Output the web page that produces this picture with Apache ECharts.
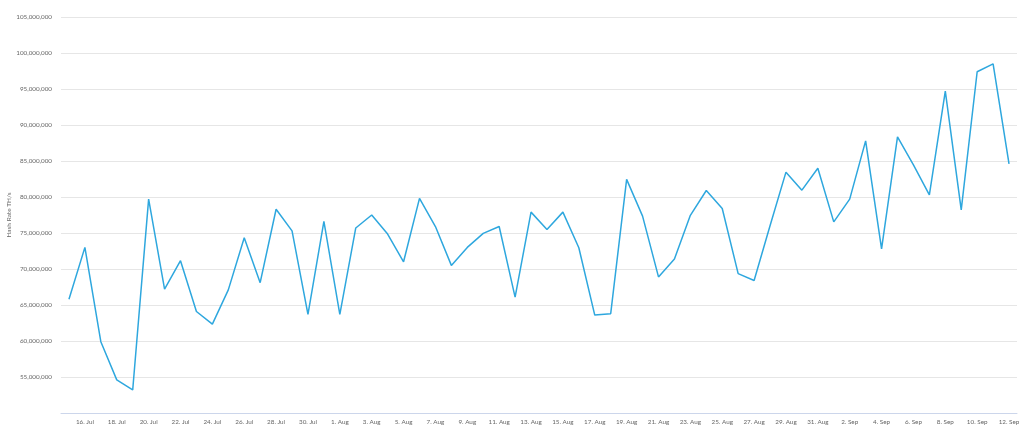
<!DOCTYPE html>
<html>
<head>
<meta charset="utf-8">
<script src="https://cdn.jsdelivr.net/npm/echarts@6/dist/echarts.min.js"></script>
<style>
  html, body { margin: 0; padding: 0; background: #fff; }
  #chart { width: 1024px; height: 430px; }
</style>
</head>
<body>
<div id="chart"></div>
<script>
const days = [
  '15. Jul', '16. Jul', '17. Jul', '18. Jul', '19. Jul', '20. Jul', '21. Jul', '22. Jul', '23. Jul', '24. Jul',
  '25. Jul', '26. Jul', '27. Jul', '28. Jul', '29. Jul', '30. Jul', '31. Jul',
  '1. Aug', '2. Aug', '3. Aug', '4. Aug', '5. Aug', '6. Aug', '7. Aug', '8. Aug', '9. Aug', '10. Aug',
  '11. Aug', '12. Aug', '13. Aug', '14. Aug', '15. Aug', '16. Aug', '17. Aug', '18. Aug', '19. Aug', '20. Aug',
  '21. Aug', '22. Aug', '23. Aug', '24. Aug', '25. Aug', '26. Aug', '27. Aug', '28. Aug', '29. Aug', '30. Aug',
  '31. Aug',
  '1. Sep', '2. Sep', '3. Sep', '4. Sep', '5. Sep', '6. Sep', '7. Sep', '8. Sep', '9. Sep', '10. Sep',
  '11. Sep', '12. Sep'
]

// hash rate in TH/s
const hashRate = [
  65800000, 73000000, 59900000, 54600000, 53200000, 79700000, 67200000, 71150000, 64100000, 62350000,
  67100000, 74350000, 68100000, 78300000, 75300000, 63700000, 76600000,
  63700000, 75700000, 77500000, 74850000, 71000000, 79800000, 75900000, 70500000, 73000000, 74950000,
  75900000, 66100000, 77900000, 75500000, 77900000, 72950000, 63600000, 63800000, 82450000, 77350000,
  68900000, 71400000, 77450000, 80900000, 78400000, 69350000, 68400000, 76000000, 83450000, 80950000,
  84000000,
  76550000, 79700000, 87800000, 72800000, 88350000, 84450000, 80300000, 94700000, 78200000, 97400000,
  98500000, 84600000
]

const yMin = 50000000
const yMax = 105000000
const yStep = 5000000

const chart = echarts.init(document.getElementById('chart'), null, { renderer: 'canvas' })

chart.setOption({
  backgroundColor: '#ffffff',
  animation: false,
  grid: {
    left: 61,
    right: 7,
    top: 17,
    bottom: 17,
    outerBoundsMode: 'none',
    containLabel: false
  },
  xAxis: {
    type: 'category',
    data: days,
    boundaryGap: true,
    axisLine: {
      lineStyle: {
        color: '#ccd6eb'
      }
    },
    axisTick: {
      alignWithLabel: true,
      length: 6,
      interval(i) {
        return i % 2 === 1
      },
      lineStyle: {
        color: '#ccd6eb'
      }
    },
    axisLabel: {
      interval(i) {
        return i % 2 === 1
      },
      color: '#666666',
      fontFamily: 'Lato',
      fontSize: 6.3,
      margin: 6
    },
    splitLine: {
      show: false
    }
  },
  yAxis: {
    type: 'value',
    min: yMin,
    max: yMax,
    interval: yStep,
    name: 'Hash Rate TH/s',
    nameLocation: 'middle',
    nameRotate: 90,
    nameGap: 49,
    nameMoveOverlap: false,
    nameTextStyle: {
      color: '#666666',
      fontFamily: 'Lato',
      fontSize: 6.5
    },
    axisLine: {
      show: false
    },
    axisTick: {
      show: false
    },
    axisLabel: {
      color: '#666666',
      fontFamily: 'Lato',
      fontSize: 6.3,
      margin: 9,
      formatter(v) {
        return v === yMin ? '' : v.toLocaleString('en-US')
      }
    },
    splitLine: {
      lineStyle: {
        color: '#e6e6e6'
      }
    }
  },
  series: [
    {
      name: 'Hash Rate',
      type: 'line',
      data: hashRate,
      showSymbol: false,
      symbol: 'none',
      lineStyle: {
        color: '#2ea7de',
        width: 1.5
      }
    }
  ]
})
</script>
</body>
</html>
